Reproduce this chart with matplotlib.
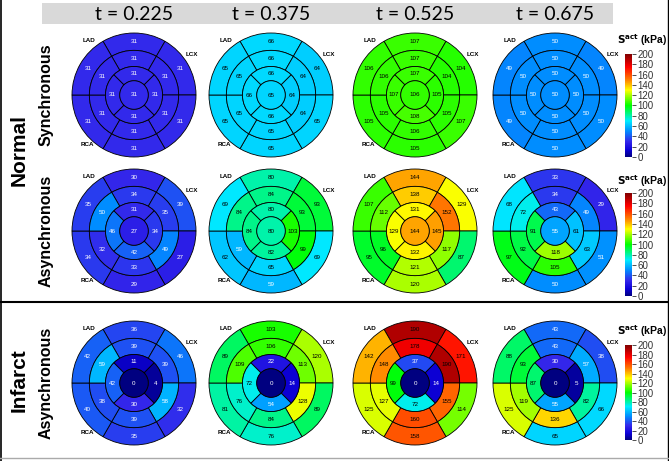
import math
import matplotlib
matplotlib.use("Agg")
import matplotlib.pyplot as plt
from matplotlib.patches import Wedge, Rectangle
from matplotlib.lines import Line2D
from matplotlib.colors import Normalize, LinearSegmentedColormap
from matplotlib.cm import ScalarMappable

times = ["t = 0.225", "t = 0.375", "t = 0.525", "t = 0.675"]
row_labels = ["Synchronous", "Asynchronous", "Asynchronous"]
group_labels = ["Normal", "Infarct"]
cbar_ticks = [0, 20, 40, 60, 80, 100, 120, 140, 160, 180, 200]

# ring order: basal/mid = top, upper-right, lower-right, bottom, lower-left, upper-left
#             apical = top, right, bottom, left
normal_sync_basal = [[31, 31, 31, 31, 31, 31], [66, 64, 65, 65, 65, 65],
                     [107, 104, 107, 105, 105, 106], [50, 49, 50, 50, 49, 49]]
normal_sync_mid = [[31, 31, 31, 31, 31, 31], [66, 64, 64, 65, 65, 65],
                   [107, 104, 105, 106, 105, 106], [50, 50, 50, 50, 50, 50]]
normal_sync_apical = [[31, 31, 31, 31], [66, 64, 66, 66],
                      [107, 105, 108, 107], [50, 50, 50, 50]]
normal_sync_apex = [31, 65, 106, 50]

normal_async_basal = [[30, 39, 27, 29, 34, 35], [80, 93, 69, 59, 62, 69],
                      [144, 129, 87, 120, 95, 107], [33, 29, 51, 50, 97, 68]]
normal_async_mid = [[34, 35, 49, 33, 32, 50], [84, 93, 99, 65, 59, 84],
                    [138, 152, 117, 121, 96, 112], [34, 49, 63, 105, 92, 72]]
normal_async_apical = [[31, 34, 42, 46], [80, 103, 82, 84],
                       [131, 145, 132, 129], [43, 61, 118, 91]]
normal_async_apex = [27, 80, 144, 55]

infarct_async_basal = [[36, 46, 32, 35, 40, 42], [103, 120, 89, 76, 81, 89],
                       [190, 171, 114, 158, 125, 142], [43, 38, 66, 65, 125, 88]]
infarct_async_mid = [[39, 39, 58, 39, 38, 59], [106, 113, 128, 84, 76, 109],
                     [178, 190, 155, 160, 127, 148], [43, 57, 82, 136, 119, 93]]
infarct_async_apical = [[11, 4, 30, 42], [22, 14, 54, 72],
                        [37, 14, 72, 99], [30, 5, 55, 87]]
infarct_async_apex = [0, 0, 0, 0]

rows = [
    (normal_sync_basal, normal_sync_mid, normal_sync_apical, normal_sync_apex),
    (normal_async_basal, normal_async_mid, normal_async_apical, normal_async_apex),
    (infarct_async_basal, infarct_async_mid, infarct_async_apical, infarct_async_apex),
]

W, H = 669, 461
fig = plt.figure(figsize=(W / 100, H / 100), dpi=100)
plt.rcParams["font.family"] = ["Liberation Sans", "DejaVu Sans"]

norm = Normalize(0, 200)
# jet-like map, greener in the middle like the original figure
cmap = LinearSegmentedColormap.from_list("sact", [
    (0.0, (0.0, 0.0, 0.5)),
    (0.07, (0.05, 0.0, 0.85)),
    (0.15, (0.2, 0.15, 0.92)),
    (0.25, (0.0, 0.55, 1.0)),
    (0.35, (0.0, 0.93, 1.0)),
    (0.5, (0.0, 1.0, 0.0)),
    (0.65, (1.0, 1.0, 0.0)),
    (0.75, (1.0, 0.5, 0.0)),
    (0.875, (1.0, 0.0, 0.0)),
    (1.0, (0.5, 0.0, 0.0)),
])

col_x = [134, 271, 415, 555]
row_y = [95, 231, 383]
R_PX = 62
LIM = 1.25
radii = [0.23, 0.46, 0.72, 1.0]

six_angles = [(60, 120), (0, 60), (-60, 0), (-120, -60), (180, 240), (120, 180)]
four_angles = [(45, 135), (-45, 45), (225, 315), (135, 225)]


def txtcol(v):
    return "white" if v < 60 else "black"


def seg(ax, r_in, r_out, a0, a1, v):
    ax.add_patch(Wedge((0, 0), r_out, a0, a1, width=r_out - r_in,
                       facecolor=cmap(norm(v)), edgecolor="black", lw=0.6))
    am = math.radians((a0 + a1) / 2)
    rm = (r_in + r_out) / 2
    ax.text(rm * math.cos(am), rm * math.sin(am), str(v), ha="center", va="center",
            fontsize=4.5, color=txtcol(v))


def bullseye(ax, basal, mid, apical, apex):
    for (a0, a1), v in zip(six_angles, basal):
        seg(ax, radii[2], radii[3], a0, a1, v)
    for (a0, a1), v in zip(six_angles, mid):
        seg(ax, radii[1], radii[2], a0, a1, v)
    for (a0, a1), v in zip(four_angles, apical):
        seg(ax, radii[0], radii[1], a0, a1, v)
    ax.add_patch(Wedge((0, 0), radii[0], 0, 360, facecolor=cmap(norm(apex)),
                       edgecolor="black", lw=0.6))
    ax.text(0, 0, str(apex), ha="center", va="center", fontsize=4.5, color=txtcol(apex))
    ax.text(-0.72, 0.88, "LAD", ha="center", va="center", fontsize=4.5, fontweight="bold")
    ax.text(0.93, 0.66, "LCX", ha="center", va="center", fontsize=4.5, fontweight="bold")
    ax.text(-0.76, -0.8, "RCA", ha="center", va="center", fontsize=4.5, fontweight="bold")
    ax.set_xlim(-LIM, LIM)
    ax.set_ylim(-LIM, LIM)
    ax.set_aspect("equal")
    ax.axis("off")


size = 2 * R_PX * LIM
for r, (basal, mid, apical, apex) in enumerate(rows):
    for c in range(4):
        ax = fig.add_axes([(col_x[c] - size / 2) / W, 1 - (row_y[r] + size / 2) / H,
                           size / W, size / H])
        bullseye(ax, basal[c], mid[c], apical[c], apex[c])

# header bar
fig.add_artist(Rectangle((42 / W, 1 - 24 / H), 571 / W, 21 / H, transform=fig.transFigure,
                         facecolor="#d9d9d9", edgecolor="none"))
for c, t in enumerate(times):
    fig.text(col_x[c] / W, 1 - 14 / H, t, ha="center", va="center", fontsize=14,
             family="Lato")

# colorbars
cbars = [(54, 157, 40), (193, 296, 181), (345, 440, 331)]
for top, bot, ty in cbars:
    cax = fig.add_axes([625 / W, 1 - bot / H, 7 / W, (bot - top) / H])
    cb = fig.colorbar(ScalarMappable(norm=norm, cmap=cmap), cax=cax, ticks=cbar_ticks)
    cb.outline.set_visible(False)
    cax.tick_params(labelsize=7, colors="#333333", length=3, width=0.6, pad=1)
    fig.text(642 / W, 1 - ty / H, r"$\mathbf{S^{act}}$ (kPa)", ha="center", va="center",
             fontsize=7.5, fontweight="bold")

# side labels
fig.text(19 / W, 1 - 150 / H, group_labels[0], rotation=90, ha="center", va="center",
         fontsize=15, fontweight="bold")
fig.text(19 / W, 1 - 380 / H, group_labels[1], rotation=90, ha="center", va="center",
         fontsize=15, fontweight="bold")
for y, lab in zip(row_y, row_labels):
    fig.text(46 / W, 1 - y / H, lab, rotation=90, ha="center", va="center",
             fontsize=11.5, fontweight="bold")

# frame lines
fig.add_artist(Line2D([0, 1], [1 - 302 / H, 1 - 302 / H], color="black", lw=1.5,
                      transform=fig.transFigure))
fig.add_artist(Line2D([1 / W, 1 / W], [0, 1], color="black", lw=1.2,
                      transform=fig.transFigure))
fig.add_artist(Line2D([667.5 / W, 667.5 / W], [0, 1], color="black", lw=1.0,
                      transform=fig.transFigure))
fig.add_artist(Line2D([0, 1], [3 / H, 3 / H], color="#aaaaaa", lw=1.0,
                      transform=fig.transFigure))

fig.savefig("out.png", dpi=100)
